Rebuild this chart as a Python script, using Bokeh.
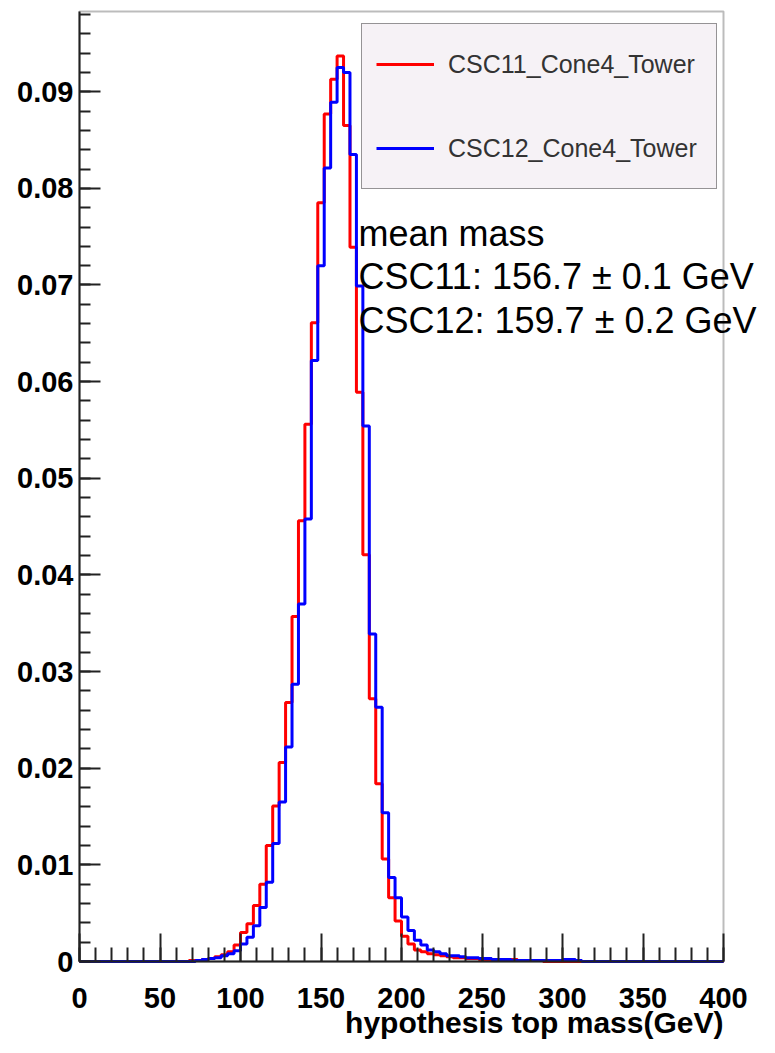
import numpy as np
from bokeh.plotting import figure
from bokeh.models import (Range1d, SingleIntervalTicker, CustomJSTickFormatter,
                          Label, Legend, LegendItem, BoxAnnotation)
from bokeh.embed import file_html
from bokeh.resources import INLINE

# ---- data: 100 bins of 4 GeV from 0 to 400 GeV (normalised entries) ----
bin_edges = list(range(0, 404, 4))

csc11 = [
    0, 0, 0, 0, 0, 0, 0, 0, 0, 0,
    0, 0, 0, 0, 0, 0, 0, 0.0001, 0.0001, 0.0002,
    0.0003, 0.0005, 0.0007, 0.0010, 0.0017, 0.0030, 0.0039, 0.0058, 0.0080, 0.0120,
    0.0161, 0.0206, 0.0268, 0.0357, 0.0456, 0.0556, 0.0661, 0.0785, 0.0877, 0.0913,
    0.0937, 0.0865, 0.0739, 0.0589, 0.0421, 0.0272, 0.0184, 0.0106, 0.0066, 0.0042,
    0.0026, 0.0018, 0.0012, 0.0010, 0.0008, 0.0007, 0.0006, 0.0005, 0.0004, 0.0004,
    0.0003, 0.0003, 0.0002, 0.0002, 0.0002, 0.0002, 0.0001, 0.0002, 0.0001, 0.0001,
    0.0001, 0.0001, 0, 0, 0, 0, 0, 0, 0, 0,
    0, 0, 0, 0, 0, 0, 0, 0, 0, 0,
    0, 0, 0, 0, 0, 0, 0, 0, 0, 0,
]

csc12 = [
    0, 0, 0, 0, 0, 0, 0, 0, 0, 0,
    0, 0, 0, 0, 0, 0, 0, 0, 0.0001, 0.0002,
    0.0003, 0.0004, 0.0006, 0.0008, 0.0011, 0.0018, 0.0025, 0.0037, 0.0056, 0.0082,
    0.0122, 0.0165, 0.0222, 0.0287, 0.0370, 0.0458, 0.0622, 0.0720, 0.0821, 0.0889,
    0.0925, 0.0920, 0.0835, 0.0699, 0.0554, 0.0339, 0.0263, 0.0154, 0.0087, 0.0066,
    0.0046, 0.0032, 0.0022, 0.0017, 0.0012, 0.0010, 0.0008, 0.0006, 0.0006, 0.0005,
    0.0004, 0.0004, 0.0003, 0.0003, 0.0002, 0.0002, 0.0002, 0.0001, 0.0001, 0.0001,
    0.0001, 0.0001, 0.0001, 0.0001, 0.0001, 0.0002, 0.0002, 0.0001, 0, 0,
    0, 0, 0, 0, 0, 0, 0, 0, 0, 0,
    0, 0, 0, 0, 0, 0, 0, 0, 0, 0,
]

series_names = ["CSC11_Cone4_Tower", "CSC12_Cone4_Tower"]
series_colors = ["#ff0000", "#0000ff"]
stats_lines = ["mean mass", "CSC11: 156.7 \u00b1 0.1 GeV", "CSC12: 159.7 \u00b1 0.2 GeV"]
x_title = "hypothesis top mass(GeV)"

X_MIN, X_MAX = 0, 400        # histogram axis range
Y_MAX = 0.0983               # histogram frame top

FONT = "Liberation Sans"
AX = "#222222"

# layout (pixels); the whole canvas is the plotting frame, axes are fixed at 0
W, H = 772, 1050
LEFT = 79                    # px left of x = 0
TOP_PAD = 11                 # px above histogram frame top
BOT_PAD = 89                 # px below y = 0
HIST_W = 644                 # histogram box width in px
HIST_H = 950                 # histogram box height in px
vpp = Y_MAX / HIST_H         # value per pixel (y)
gpp = (X_MAX - X_MIN) / HIST_W  # GeV per pixel (x)

x_start = X_MIN - LEFT * gpp
x_end = X_MIN + (W - LEFT) * gpp
y_top = Y_MAX + TOP_PAD * vpp
y_bot = -BOT_PAD * vpp

p = figure(width=W, height=H,
           x_range=Range1d(x_start, x_end), y_range=Range1d(y_bot, y_top),
           output_backend="svg", toolbar_location=None,
           min_border_left=0, min_border_right=0,
           min_border_top=0, min_border_bottom=0)
p.min_border = 0
p.background_fill_color = "white"
p.border_fill_color = "white"
p.outline_line_color = None
p.grid.visible = False

# histogram frame box
p.add_layout(BoxAnnotation(left=X_MIN, right=X_MAX, bottom=0, top=Y_MAX,
                           fill_color=None, line_color=AX, line_width=2))

renderers = []
for vals, col in zip([csc11, csc12], series_colors):
    ys = vals + [vals[-1]]
    r = p.step(bin_edges, ys, mode="after", line_color=col, line_width=3)
    renderers.append(r)

# x axis (fixed at y = 0)
xa = p.xaxis[0]
xa.fixed_location = 0
xa.bounds = (X_MIN, X_MAX)
xa.ticker = SingleIntervalTicker(interval=50, num_minor_ticks=5)
xa.major_tick_in = 28
xa.major_tick_out = 0
xa.minor_tick_in = 14
xa.minor_tick_out = 0
xa.major_tick_line_color = AX
xa.minor_tick_line_color = AX
xa.major_tick_line_width = 2
xa.minor_tick_line_width = 2
xa.axis_line_color = AX
xa.axis_line_width = 2
xa.major_label_text_font = FONT
xa.major_label_text_font_style = "bold"
xa.major_label_text_font_size = "29px"
xa.major_label_text_color = "black"
xa.major_label_standoff = 26

# y axis (fixed at x = 0)
ya = p.yaxis[0]
ya.fixed_location = 0
ya.bounds = (0, Y_MAX)
ya.ticker = SingleIntervalTicker(interval=0.01, num_minor_ticks=5)
ya.formatter = CustomJSTickFormatter(code="return Math.abs(tick) < 1e-9 ? '0' : tick.toFixed(2);")
ya.major_tick_in = 21
ya.major_tick_out = 0
ya.minor_tick_in = 11
ya.minor_tick_out = 0
ya.major_tick_line_color = AX
ya.minor_tick_line_color = AX
ya.major_tick_line_width = 2
ya.minor_tick_line_width = 2
ya.axis_line_color = AX
ya.axis_line_width = 2
ya.major_label_text_font = FONT
ya.major_label_text_font_style = "bold"
ya.major_label_text_font_size = "29px"
ya.major_label_text_color = "black"
ya.major_label_standoff = 6

# x axis title, right aligned at the end of the axis
p.add_layout(Label(x=X_MAX, y=-61 * vpp, text=x_title,
                   text_align="right", text_baseline="middle",
                   text_font=FONT, text_font_style="bold", text_font_size="30px",
                   text_color="black"))

# legend (location = bottom-left corner, px from canvas bottom-left)
legend = Legend(items=[LegendItem(label=n, renderers=[r]) for n, r in zip(series_names, renderers)],
                location=(361, H - 189), margin=0, padding=14, spacing=32,
                glyph_width=58, glyph_height=52, label_height=52, label_width=254,
                label_standoff=14,
                label_text_font=FONT, label_text_font_size="25px", label_text_color="#333333",
                background_fill_color="#f6f2f6", background_fill_alpha=1.0,
                border_line_color="#333333", border_line_width=1)
p.add_layout(legend, "center")

# statistics text (baselines in px below the histogram box top)
stat_base_px = [222, 265, 309]
for txt, bpx in zip(stats_lines, stat_base_px):
    p.add_layout(Label(x=X_MIN + (358 - LEFT) * gpp, y=Y_MAX - bpx * vpp, text=txt,
                       text_align="left", text_baseline="alphabetic",
                       text_font=FONT, text_font_size="36px", text_color="black"))

open("out.html", "w").write(file_html(p, INLINE))
